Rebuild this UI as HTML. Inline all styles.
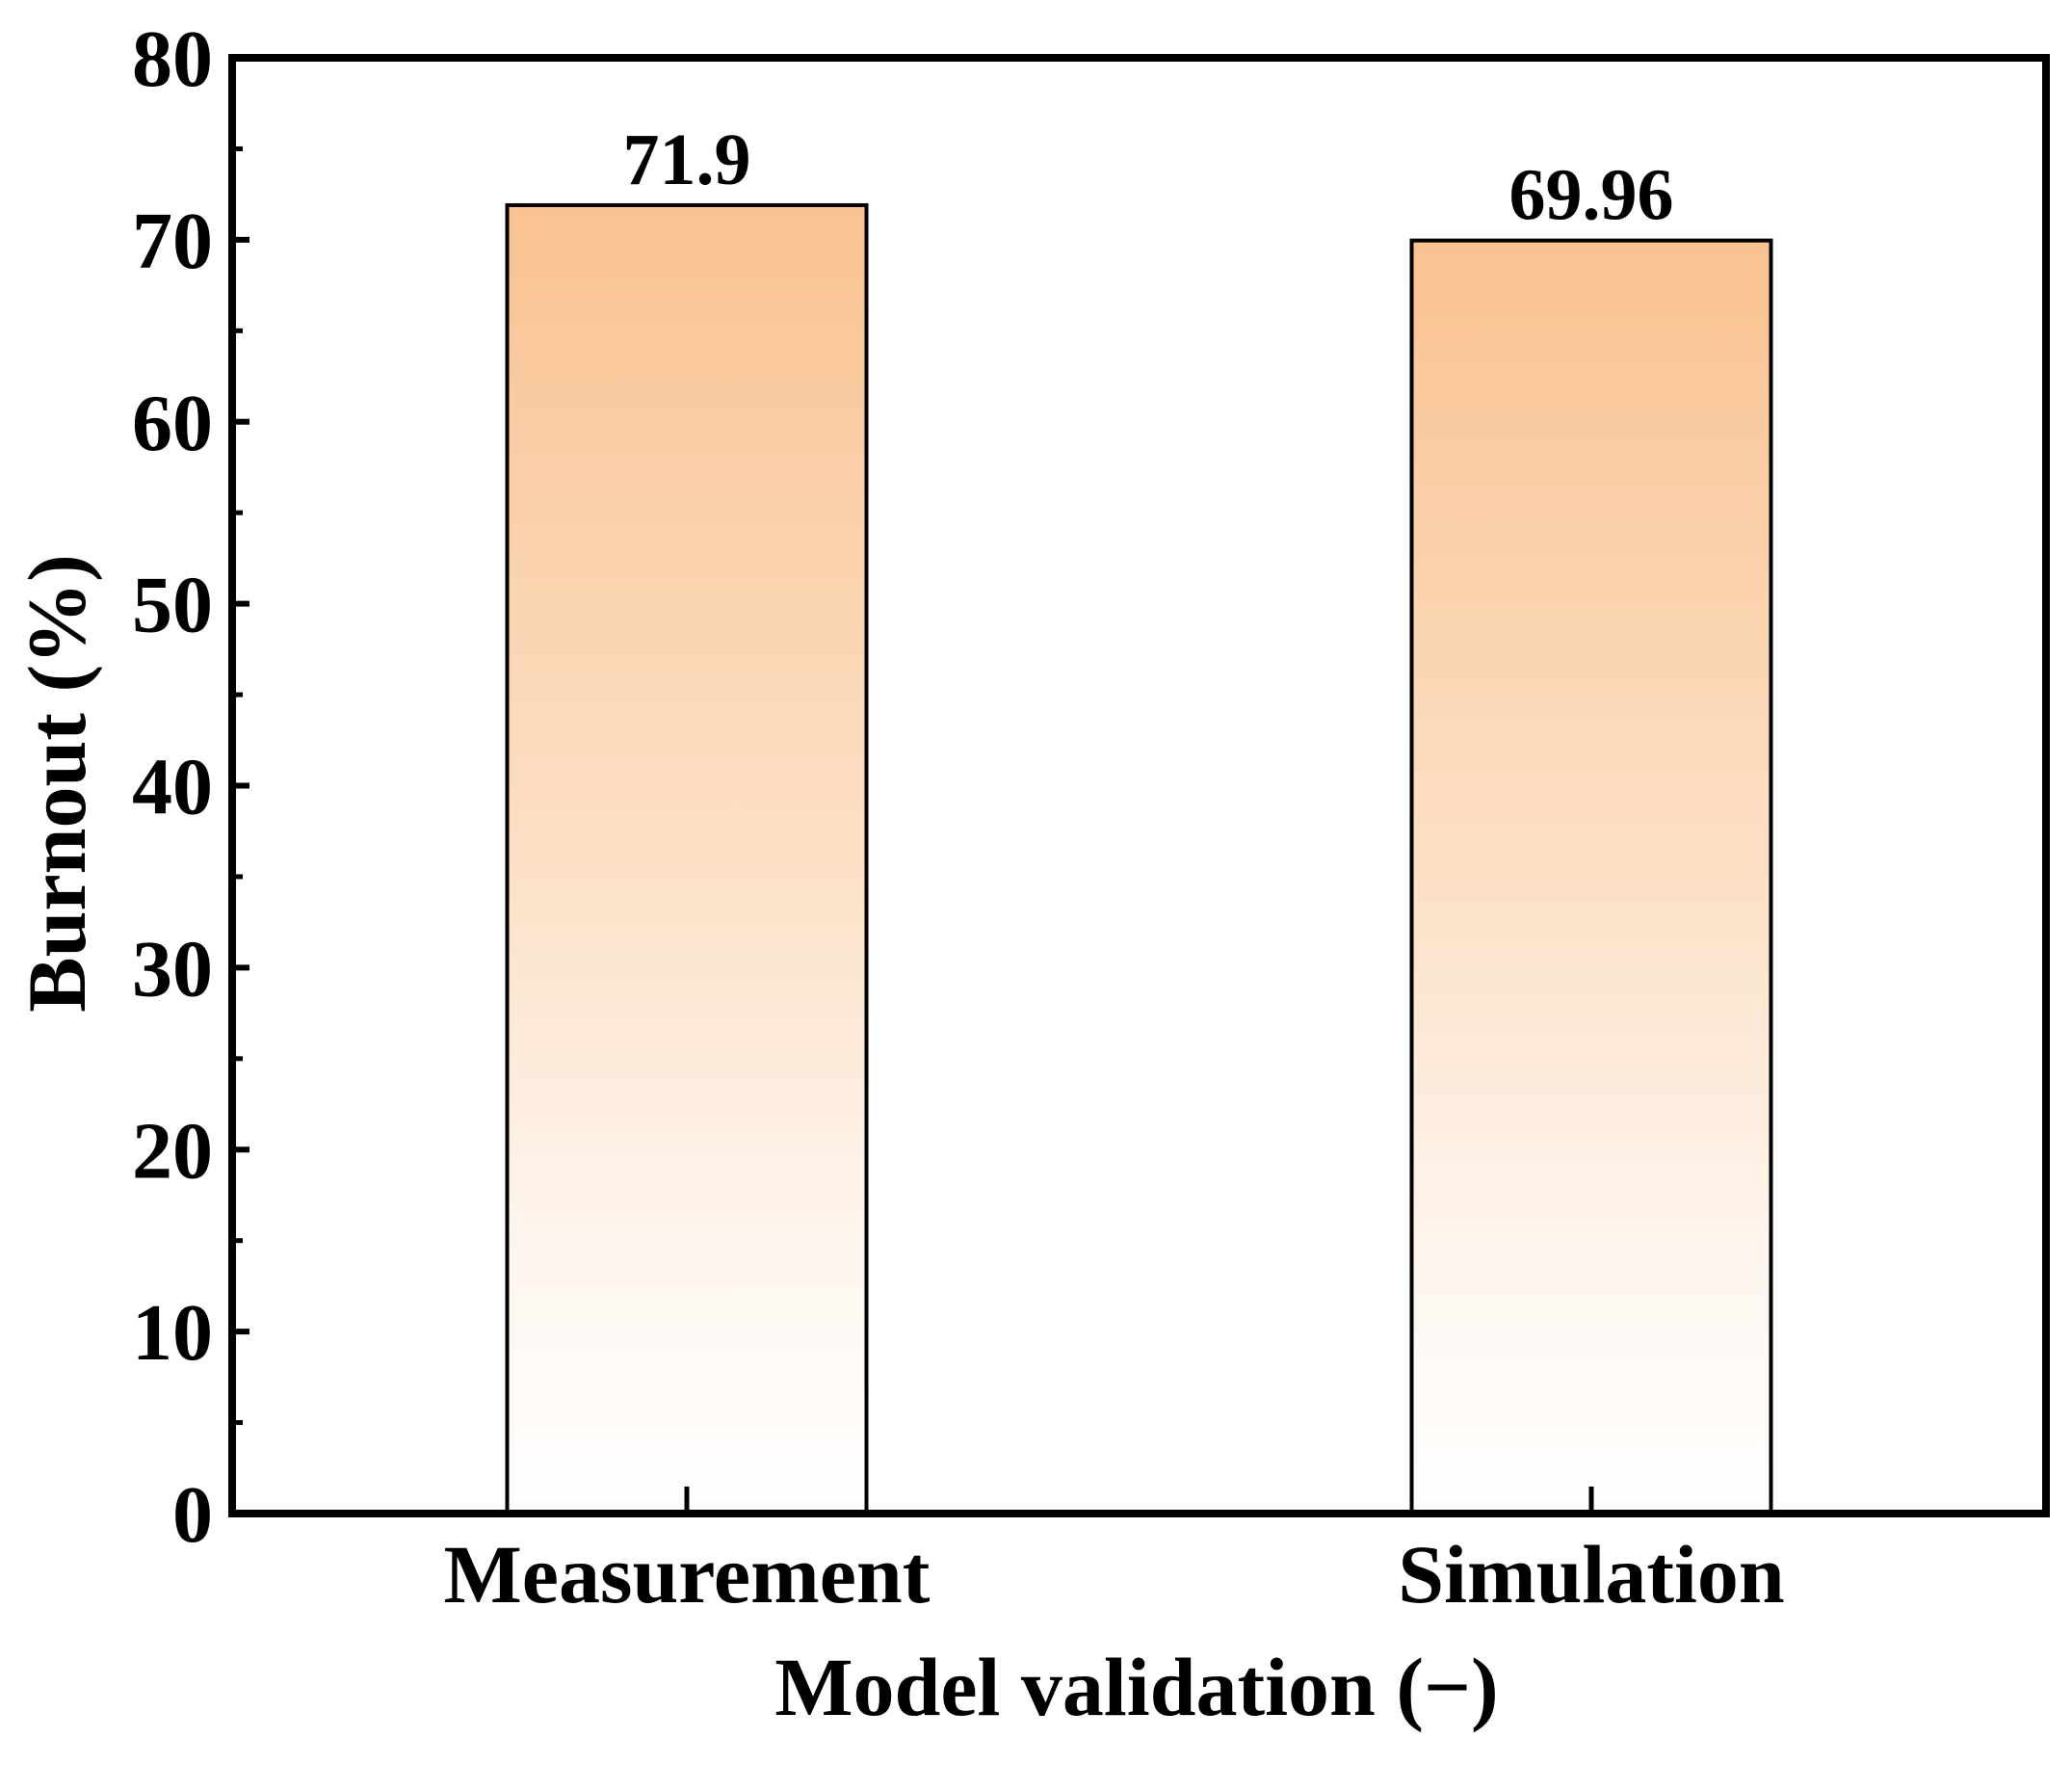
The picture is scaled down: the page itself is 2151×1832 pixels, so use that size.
<!DOCTYPE html>
<html><head><meta charset="utf-8"><style>
html,body{margin:0;padding:0;background:#fff}
svg text{font-family:"Liberation Serif",serif;font-weight:bold;fill:#000}
</style></head><body>
<svg id="chart" width="2151" height="1827" viewBox="0 0 2151 1827" xmlns="http://www.w3.org/2000/svg">
<defs><linearGradient id="barGrad" x1="0" y1="0" x2="0" y2="1">
<stop offset="0" stop-color="#F9C291"/><stop offset="0.5" stop-color="#FCE0C6"/><stop offset="0.8" stop-color="#FEF6EF"/><stop offset="1" stop-color="#FFFFFF"/></linearGradient></defs>
<g id="plot"></g>
</svg>
<script>
const categories = ["Measurement", "Simulation"];
const values = [71.9, 69.96];
const valueLabels = ["71.9", "69.96"];
const yTicks = [0, 10, 20, 30, 40, 50, 60, 70, 80];
const NS = "http://www.w3.org/2000/svg";
const L = 241, R = 2124, T = 60, B = 1571;
const yMin = 0, yMax = 80;
const y = v => B - (v - yMin) / (yMax - yMin) * (B - T);
const catCenters = [713, 1652];
const x = i => catCenters[i];
const barW = 373;
const g = document.getElementById('plot');
function mk(tag, attrs, text){const e=document.createElementNS(NS,tag);for(const k in attrs)e.setAttribute(k,attrs[k]);if(text!==undefined)e.textContent=text;g.appendChild(e);return e;}

categories.forEach((c,i)=>{
  const r = mk('rect',{x:x(i)-barW/2,y:y(values[i]),width:barW,height:B-y(values[i]),fill:'url(#barGrad)',stroke:'#000','stroke-width':4});
  
  
  const t = mk('text',{x:x(i),y:y(values[i])-22,'text-anchor':'middle','font-size':76},valueLabels[i]);
  
  
  const tk = mk('line',{x1:x(i),x2:x(i),y1:B,y2:B-28,stroke:'#000','stroke-width':5});
  
  
  const cl = mk('text',{x:x(i),y:1663,'text-anchor':'middle','font-size':86},c);
  
  
});
yTicks.forEach((v,i)=>{
  const tk = mk('line',{x1:L,x2:L+18,y1:y(v),y2:y(v),stroke:'#000','stroke-width':6});
  
  
  const lb = mk('text',{x:L-20,y:y(v)+29,'text-anchor':'end','font-size':84},String(v));
  
  
  if(i<yTicks.length-1){
    const m = mk('line',{x1:L,x2:L+11,y1:y(v+5),y2:y(v+5),stroke:'#000','stroke-width':5});
    
    
  }
});
const frame = mk('rect',{x:L,y:T,width:R-L,height:B-T,fill:'none',stroke:'#000','stroke-width':8});


const yt = mk('text',{x:0,y:0,'text-anchor':'middle','font-size':86,transform:'translate(88,813) rotate(-90)'},'Burnout (%)');


const xt = mk('text',{x:1180,y:1780,'text-anchor':'middle','font-size':86},'Model validation (\u2212)');


</script>
</body></html>
